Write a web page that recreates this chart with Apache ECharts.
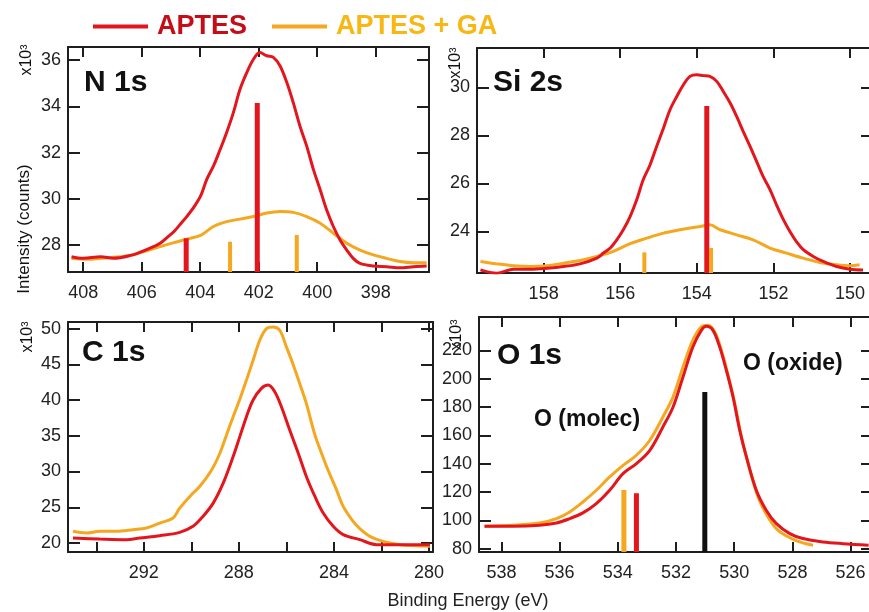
<!DOCTYPE html>
<html>
<head>
<meta charset="utf-8">
<script src="https://cdn.jsdelivr.net/npm/echarts@6/dist/echarts.min.js"></script>
<style>
  html, body { margin: 0; padding: 0; background: #fff; }
  #main { width: 869px; height: 612px; }
</style>
</head>
<body>
<div id="main"></div>
<script>
// ---- data (binding energy eV, intensity x10^3 counts) ----
var n1sAptes = [[408.4,27.49],[408.0,27.42],[407.4,27.49],[406.97,27.42],[406.3,27.57],[406.0,27.71],[405.6,27.93],[405.37,28.07],[405.1,28.36],[404.9,28.58],[404.7,28.87],[404.46,29.23],[404.2,29.67],[403.97,30.17],[403.78,30.83],[403.55,31.41],[403.32,32.13],[403.1,32.86],[402.87,33.72],[402.64,34.74],[402.41,35.46],[402.18,36.04],[401.96,36.33],[401.73,36.19],[401.5,36.12],[401.27,35.75],[401.04,35.03],[400.82,34.16],[400.59,33.14],[400.36,32.28],[400.13,31.26],[399.9,30.39],[399.68,29.52],[399.45,28.8],[399.22,28.22],[398.99,27.78],[398.77,27.42],[398.54,27.2],[398.08,27.09],[397.63,27.06],[397.17,27.01],[396.71,27.06],[396.26,27.09]];
var n1sGa = [[408.4,27.42],[407.88,27.38],[407.4,27.42],[406.74,27.49],[406.3,27.57],[405.83,27.75],[405.37,27.93],[404.9,28.1],[404.46,28.25],[403.97,28.43],[403.55,28.8],[403.1,29.01],[402.64,29.12],[402.18,29.23],[401.73,29.38],[401.27,29.45],[400.82,29.41],[400.36,29.23],[399.9,28.94],[399.45,28.51],[398.99,28.07],[398.54,27.78],[398.08,27.57],[397.63,27.42],[397.17,27.28],[396.71,27.23],[396.26,27.23]];
var n1sSticksAptes = [[404.48,28.29],[402.05,34.15]];
var n1sSticksGa = [[402.98,28.14],[400.7,28.43]];

var si2sAptes = [[159.65,22.4],[159.22,22.26],[158.78,22.43],[158.35,22.43],[157.91,22.47],[157.48,22.54],[157.05,22.65],[156.61,22.89],[156.44,23.1],[156.26,23.31],[156.09,23.65],[155.92,24.07],[155.74,24.63],[155.57,25.32],[155.4,26.15],[155.22,26.78],[155.05,27.54],[154.87,28.31],[154.7,29.07],[154.52,29.63],[154.35,30.11],[154.18,30.46],[154.0,30.53],[153.83,30.49],[153.66,30.46],[153.48,30.25],[153.31,29.83],[153.13,29.35],[152.96,28.79],[152.79,28.17],[152.61,27.54],[152.44,26.92],[152.27,26.29],[152.09,25.74],[151.92,25.11],[151.74,24.49],[151.57,24.0],[151.4,23.58],[151.22,23.24],[150.96,22.96],[150.7,22.75],[150.35,22.54],[150.0,22.43],[149.66,22.4]];
var si2sGa = [[159.65,22.75],[159.22,22.65],[158.78,22.57],[158.35,22.54],[157.91,22.57],[157.48,22.68],[157.05,22.79],[156.61,22.96],[156.18,23.17],[155.74,23.49],[155.31,23.72],[154.87,23.93],[154.44,24.07],[154.18,24.14],[153.91,24.21],[153.66,24.28],[153.39,24.07],[152.96,23.86],[152.53,23.65],[152.09,23.31],[151.66,23.1],[151.22,22.89],[150.79,22.71],[150.35,22.61],[150.0,22.57],[149.75,22.61]];
var si2sSticksAptes = [[153.74,29.22]];
var si2sSticksGa = [[155.37,23.13],[153.63,23.31]];

var c1sAptes = [[294.98,20.7],[293.86,20.56],[292.73,20.47],[292.17,20.7],[291.33,21.02],[290.49,21.49],[289.93,22.33],[289.51,23.72],[289.08,25.58],[288.66,28.37],[288.24,32.09],[287.96,34.88],[287.68,37.67],[287.4,40.0],[287.05,41.63],[286.77,42.09],[286.49,41.16],[286.21,39.07],[285.86,35.81],[285.5,32.56],[285.16,29.3],[284.8,26.51],[284.45,24.19],[284.03,22.33],[283.61,21.16],[282.91,20.47],[282.21,19.77],[281.22,19.77],[279.96,19.77]];
var c1sGa = [[294.98,21.63],[294.42,21.4],[293.86,21.63],[293.16,21.63],[292.45,21.86],[291.89,22.09],[291.33,22.79],[290.77,23.49],[290.49,24.88],[289.93,26.98],[289.65,27.9],[289.16,30.14],[288.8,32.56],[288.52,35.12],[288.24,37.67],[287.96,40.1],[287.68,42.8],[287.4,45.58],[287.12,48.37],[286.84,50.0],[286.56,50.23],[286.28,49.77],[286.0,47.44],[285.72,45.02],[285.44,42.33],[285.16,39.53],[284.8,35.12],[284.52,32.56],[284.24,30.14],[283.89,27.44],[283.61,25.12],[283.19,23.02],[282.91,22.0],[282.49,20.93],[281.93,20.23],[281.22,19.77],[280.52,19.63],[279.96,19.53]];

var o1sAptes = [[538.58,95.8],[537.6,95.8],[536.69,96.5],[536.11,98.1],[535.65,101.2],[535.2,105.2],[534.74,111.8],[534.28,121.2],[533.82,132.9],[533.36,140.0],[532.9,149.4],[532.45,165.9],[532.1,180.0],[531.76,201.2],[531.42,222.4],[531.13,234.1],[530.96,236.9],[530.73,234.1],[530.5,222.4],[530.27,205.9],[530.04,187.1],[529.81,163.5],[529.58,144.7],[529.24,121.2],[528.9,107.1],[528.55,97.6],[528.09,90.6],[527.64,87.1],[526.95,84.7],[526.26,83.5],[525.38,82.4]];
var o1sGa = [[538.58,95.8],[537.6,96.5],[536.69,98.1],[536.11,101.2],[535.65,105.9],[535.2,112.9],[534.74,121.2],[534.28,130.6],[533.82,138.8],[533.36,145.9],[532.9,156.5],[532.45,172.9],[532.1,187.1],[531.76,208.2],[531.42,227.1],[531.13,236.5],[530.9,237.6],[530.67,232.9],[530.44,220.0],[530.21,202.4],[529.98,182.4],[529.75,158.8],[529.52,140.0],[529.18,116.5],[528.84,102.4],[528.49,92.9],[528.03,87.1],[527.64,84.0],[527.29,82.4]];
var o1sSticksAptes = [[533.36,119.1]];
var o1sSticksGa = [[533.79,121.4]];
var o1sSticksOxide = [[531.01,190.6]];

// tick values
var n1sXTicks = [408, 406, 404, 402, 400, 398];
var n1sYTicks = [28, 30, 32, 34, 36];
var si2sXTicks = [158, 156, 154, 152, 150];
var si2sYTicks = [24, 26, 28, 30];
var c1sXTicks = [294, 292, 290, 288, 286, 284, 282, 280];
var c1sXLabels = [292, 288, 284, 280];
var c1sYTicks = [20, 25, 30, 35, 40, 45, 50];
var o1sXTicks = [538, 536, 534, 532, 530, 528, 526];
var o1sYTicks = [80, 100, 120, 140, 160, 180, 200, 220];

var FONT = "'Liberation Sans', Arial, sans-serif";
var RED = '#e3161d', ORANGE = '#f4a71f', AXIS = '#1e1e1e';

var panels = [
  { grid: {left: 68, top: 47, width: 361, height: 225}, x: [396.18, 408.52], y: [26.83, 36.57],
    xt: n1sXTicks, xl: n1sXTicks, yt: n1sYTicks, red: n1sAptes, ora: n1sGa,
    sticks: [[n1sSticksAptes, RED, 5], [n1sSticksGa, ORANGE, 4]] },
  { grid: {left: 477, top: 48, width: 396, height: 225}, x: [149.4, 159.74], y: [22.27, 31.64],
    xt: si2sXTicks, xl: si2sXTicks, yt: si2sYTicks, red: si2sAptes, ora: si2sGa,
    sticks: [[si2sSticksAptes, RED, 5], [si2sSticksGa, ORANGE, 4]] },
  { grid: {left: 68, top: 322, width: 365, height: 230}, x: [279.83, 295.19], y: [18.74, 50.92],
    xt: c1sXTicks, xl: c1sXLabels, yt: c1sYTicks, red: c1sAptes, ora: c1sGa, sticks: [] },
  { grid: {left: 479, top: 317, width: 394, height: 235}, x: [525.23, 538.77], y: [77.6, 243.5],
    xt: o1sXTicks, xl: o1sXTicks, yt: o1sYTicks, red: o1sAptes, ora: o1sGa,
    sticks: [[o1sSticksGa, ORANGE, 5], [o1sSticksAptes, RED, 5], [o1sSticksOxide, '#111', 5]] }
];

var grids = [], xAxes = [], yAxes = [], series = [];
var tickStyle = {width: 2, color: AXIS};
var labelStyle = {fontSize: 18, color: '#222', fontFamily: FONT};

panels.forEach(function (p, i) {
  grids.push(Object.assign({outerBoundsMode: 'none', containLabel: false}, p.grid));
  ['bottom', 'top'].forEach(function (pos) {
    xAxes.push({
      gridIndex: i, type: 'value', position: pos, inverse: true, min: p.x[0], max: p.x[1],
      axisLine: {show: true, onZero: false, lineStyle: {color: AXIS, width: 2}},
      axisTick: {show: true, inside: true, length: 10, lineStyle: tickStyle, customValues: p.xt},
      axisLabel: Object.assign({show: pos === 'bottom', margin: 12, customValues: p.xl}, labelStyle),
      splitLine: {show: false}
    });
  });
  ['left', 'right'].forEach(function (pos) {
    yAxes.push({
      gridIndex: i, type: 'value', position: pos, min: p.y[0], max: p.y[1],
      axisLine: {show: true, onZero: false, lineStyle: {color: AXIS, width: 2}},
      axisTick: {show: true, inside: true, length: 12, lineStyle: tickStyle, customValues: p.yt},
      axisLabel: Object.assign({show: pos === 'left', margin: 7, customValues: p.yt}, labelStyle),
      splitLine: {show: false}
    });
  });
  var xi = 2 * i, yi = 2 * i;
  series.push({
    name: 'APTES + GA', type: 'line', xAxisIndex: xi, yAxisIndex: yi, data: p.ora,
    showSymbol: false, smooth: 0.35, lineStyle: {color: ORANGE, width: 3}, itemStyle: {color: ORANGE}, z: 2
  });
  series.push({
    name: 'APTES', type: 'line', xAxisIndex: xi, yAxisIndex: yi, data: p.red,
    showSymbol: false, smooth: 0.35, lineStyle: {color: RED, width: 3}, itemStyle: {color: RED}, z: 3
  });
  p.sticks.forEach(function (s) {
    s[0].forEach(function (pt) {
      series.push({
        name: 'stick', type: 'line', xAxisIndex: xi, yAxisIndex: yi, silent: true,
        data: [[pt[0], p.y[0]], [pt[0], pt[1]]], showSymbol: false,
        lineStyle: {color: s[1], width: s[2], cap: 'butt'}, z: 4
      });
    });
  });
});

function label(text, x, y, size, bold, rot) {
  return {
    type: 'text', x: x, y: y, rotation: rot || 0, silent: true,
    style: {text: text, fill: '#111', font: (bold ? 'bold ' : '') + size + 'px ' + FONT,
            textAlign: rot ? 'center' : 'left', textVerticalAlign: 'middle'}
  };
}

var graphics = [
  label('N 1s', 84, 83, 30, true),
  label('Si 2s', 493, 83, 30, true),
  label('C 1s', 82, 353, 30, true),
  label('O 1s', 497, 356, 30, true),
  label('O (oxide)', 743, 364, 23, true),
  label('O (molec)', 534, 420, 23, true),
  label('x10³', 27, 60, 16, false, Math.PI / 2),
  label('x10³', 456, 63, 16, false, Math.PI / 2),
  label('x10³', 28, 337, 16, false, Math.PI / 2),
  label('x10³', 457, 335, 16, false, Math.PI / 2),
  label('Intensity (counts)', 24, 229, 17, false, Math.PI / 2),
  {type: 'text', x: 468, y: 601, silent: true,
   style: {text: 'Binding Energy (eV)', fill: '#222', font: '18px ' + FONT, textAlign: 'center', textVerticalAlign: 'middle'}}
];

var chart = echarts.init(document.getElementById('main'), null, {renderer: 'canvas'});
chart.setOption({
  backgroundColor: '#ffffff',
  animation: false,
  legend: {
    left: 88, top: 8, icon: 'rect', itemWidth: 55, itemHeight: 4, itemGap: 25,
    data: [
      {name: 'APTES', textStyle: {color: '#c40d16'}},
      {name: 'APTES + GA', textStyle: {color: '#f8b712'}}
    ],
    textStyle: {fontSize: 27, fontWeight: 'bold', fontFamily: FONT, padding: [0, 0, 0, 4]}
  },
  grid: grids,
  xAxis: xAxes,
  yAxis: yAxes,
  series: series,
  graphic: graphics
});
</script>
</body>
</html>
